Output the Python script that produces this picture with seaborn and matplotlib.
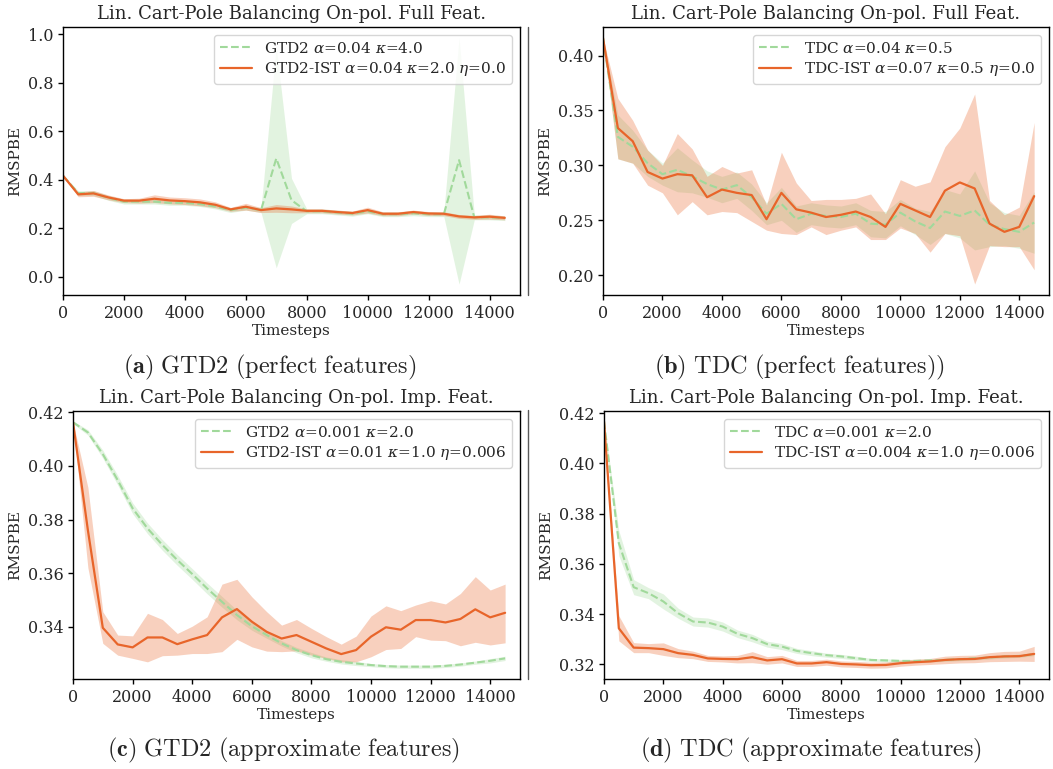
import matplotlib
matplotlib.use("Agg")
import matplotlib.pyplot as plt
import seaborn as sns
from matplotlib.lines import Line2D

# Evaluation checkpoints (timesteps)
steps = list(range(0, 14501, 500))

# (a) GTD2, perfect features
a_gtd2_mean = [0.417, 0.345, 0.345, 0.325, 0.310, 0.310, 0.310, 0.305, 0.305, 0.300,
               0.290, 0.275, 0.285, 0.275, 0.488, 0.316, 0.270, 0.270, 0.265, 0.260,
               0.270, 0.258, 0.258, 0.262, 0.258, 0.258, 0.481, 0.245, 0.245, 0.242]
a_gtd2_lo = [0.415, 0.335, 0.335, 0.315, 0.300, 0.300, 0.300, 0.295, 0.295, 0.290,
             0.280, 0.265, 0.275, 0.265, 0.037, 0.220, 0.260, 0.260, 0.255, 0.250,
             0.260, 0.248, 0.248, 0.252, 0.248, 0.248, -0.030, 0.235, 0.235, 0.232]
a_gtd2_hi = [0.419, 0.355, 0.355, 0.335, 0.320, 0.320, 0.320, 0.315, 0.315, 0.310,
             0.300, 0.285, 0.295, 0.285, 0.949, 0.406, 0.280, 0.280, 0.275, 0.270,
             0.280, 0.268, 0.268, 0.272, 0.268, 0.268, 0.986, 0.255, 0.255, 0.252]
a_ist_mean = [0.417, 0.340, 0.344, 0.327, 0.314, 0.314, 0.322, 0.315, 0.312, 0.307,
              0.297, 0.278, 0.289, 0.275, 0.282, 0.278, 0.272, 0.272, 0.267, 0.263,
              0.275, 0.260, 0.260, 0.267, 0.261, 0.260, 0.249, 0.245, 0.248, 0.243]
a_ist_err = [0.002, 0.010, 0.012, 0.010, 0.008, 0.010, 0.016, 0.014, 0.014, 0.014,
             0.012, 0.008, 0.014, 0.010, 0.016, 0.014, 0.008, 0.008, 0.008, 0.008,
             0.012, 0.008, 0.008, 0.008, 0.008, 0.008, 0.008, 0.008, 0.010, 0.008]

# (b) TDC, perfect features
b_tdc_mean = [0.416, 0.326, 0.317, 0.302, 0.292, 0.296, 0.290, 0.283, 0.278, 0.282,
              0.271, 0.256, 0.265, 0.251, 0.256, 0.254, 0.253, 0.256, 0.247, 0.246,
              0.257, 0.249, 0.243, 0.258, 0.254, 0.259, 0.246, 0.242, 0.2395, 0.248]
b_tdc_err = [0.001, 0.020, 0.015, 0.012, 0.010, 0.020, 0.015, 0.012, 0.012, 0.012,
             0.012, 0.010, 0.015, 0.012, 0.010, 0.010, 0.010, 0.010, 0.012, 0.012,
             0.012, 0.012, 0.015, 0.020, 0.020, 0.036, 0.020, 0.015, 0.015, 0.028]
b_ist_mean = [0.416, 0.334, 0.322, 0.294, 0.288, 0.292, 0.291, 0.271, 0.278, 0.275,
              0.273, 0.251, 0.275, 0.260, 0.257, 0.253, 0.255, 0.258, 0.253, 0.244,
              0.265, 0.259, 0.253, 0.277, 0.2845, 0.279, 0.247, 0.2395, 0.244, 0.272]
b_ist_lo = [0.416, 0.306, 0.302, 0.282, 0.275, 0.255, 0.267, 0.255, 0.258, 0.257,
            0.249, 0.241, 0.238, 0.237, 0.244, 0.237, 0.241, 0.244, 0.2325, 0.2325,
            0.243, 0.238, 0.221, 0.238, 0.236, 0.192, 0.227, 0.226, 0.226, 0.205]
b_ist_hi = [0.416, 0.361, 0.341, 0.314, 0.300, 0.329, 0.315, 0.290, 0.299, 0.293,
            0.296, 0.264, 0.312, 0.284, 0.268, 0.269, 0.269, 0.270, 0.274, 0.256,
            0.287, 0.281, 0.285, 0.317, 0.334, 0.365, 0.268, 0.255, 0.262, 0.339]

# (c) GTD2, approximate features
c_gtd2_mean = [0.4163, 0.4125, 0.4044, 0.3947, 0.3842, 0.3767, 0.3705, 0.3649, 0.3597, 0.3543,
               0.3493, 0.3444, 0.3402, 0.3369, 0.3338, 0.3313, 0.3294, 0.3279, 0.3269, 0.3263,
               0.3257, 0.3253, 0.3251, 0.3251, 0.3251, 0.3254, 0.3259, 0.3266, 0.3273, 0.3282]
c_gtd2_err = [0.0005, 0.0010, 0.0015, 0.0018, 0.0020, 0.0020, 0.0020, 0.0020, 0.0020, 0.0020,
              0.0020, 0.0018, 0.0015, 0.0012, 0.0010, 0.0010, 0.0010, 0.0008, 0.0008, 0.0008,
              0.0006, 0.0006, 0.0006, 0.0006, 0.0006, 0.0006, 0.0006, 0.0006, 0.0008, 0.0008]
c_ist_mean = [0.4163, 0.3760, 0.3396, 0.3334, 0.3323, 0.3360, 0.3360, 0.3335, 0.3353, 0.3369,
              0.3435, 0.3466, 0.3419, 0.3381, 0.3356, 0.3369, 0.3344, 0.3319, 0.3298, 0.3313,
              0.3363, 0.3398, 0.3389, 0.3425, 0.3425, 0.3416, 0.3429, 0.3465, 0.3435, 0.3452]
c_ist_lo = [0.4163, 0.3620, 0.3338, 0.3294, 0.3282, 0.3269, 0.3292, 0.3294, 0.3300, 0.3300,
            0.3307, 0.3353, 0.3325, 0.3309, 0.3307, 0.3310, 0.3294, 0.3282, 0.3269, 0.3269,
            0.3288, 0.3315, 0.3319, 0.3363, 0.3350, 0.3348, 0.3329, 0.3342, 0.3332, 0.3340]
c_ist_hi = [0.4163, 0.3920, 0.3456, 0.3369, 0.3366, 0.3450, 0.3427, 0.3375, 0.3402, 0.3437,
            0.3559, 0.3577, 0.3512, 0.3456, 0.3406, 0.3427, 0.3394, 0.3363, 0.3335, 0.3365,
            0.3440, 0.3478, 0.3460, 0.3481, 0.3497, 0.3485, 0.3524, 0.3587, 0.3537, 0.3559]

# (d) TDC, approximate features
d_tdc_mean = [0.4167, 0.3682, 0.3507, 0.3483, 0.3450, 0.3403, 0.3370, 0.3366, 0.3350, 0.3321,
              0.3304, 0.3280, 0.3270, 0.3253, 0.3244, 0.3236, 0.3231, 0.3224, 0.3217, 0.3215,
              0.3213, 0.3213, 0.3215, 0.3217, 0.3220, 0.3223, 0.3227, 0.3231, 0.3233, 0.3240]
d_tdc_err = [0.0005, 0.0050, 0.0030, 0.0022, 0.0030, 0.0020, 0.0018, 0.0018, 0.0018, 0.0015,
             0.0015, 0.0012, 0.0012, 0.0010, 0.0010, 0.0008, 0.0008, 0.0008, 0.0006, 0.0006,
             0.0006, 0.0006, 0.0006, 0.0006, 0.0006, 0.0006, 0.0006, 0.0006, 0.0006, 0.0006]
d_ist_mean = [0.4167, 0.3343, 0.3266, 0.3264, 0.3260, 0.3244, 0.3237, 0.3223, 0.3221, 0.3220,
              0.3228, 0.3215, 0.3220, 0.3203, 0.3203, 0.3208, 0.3201, 0.3199, 0.3196, 0.3197,
              0.3204, 0.3208, 0.3211, 0.3217, 0.3220, 0.3221, 0.3228, 0.3231, 0.3232, 0.3241]
d_ist_err = [0.0005, 0.0050, 0.0020, 0.0018, 0.0025, 0.0018, 0.0015, 0.0012, 0.0012, 0.0015,
             0.0022, 0.0015, 0.0015, 0.0012, 0.0012, 0.0012, 0.0012, 0.0012, 0.0012, 0.0012,
             0.0012, 0.0012, 0.0012, 0.0015, 0.0015, 0.0015, 0.0018, 0.0020, 0.0020, 0.0030]

titles = ["Lin. Cart-Pole Balancing On-pol. Full Feat.",
          "Lin. Cart-Pole Balancing On-pol. Full Feat.",
          "Lin. Cart-Pole Balancing On-pol. Imp. Feat.",
          "Lin. Cart-Pole Balancing On-pol. Imp. Feat."]
base_labels = [r"GTD2 $\alpha$=0.04 $\kappa$=4.0",
               r"TDC $\alpha$=0.04 $\kappa$=0.5",
               r"GTD2 $\alpha$=0.001 $\kappa$=2.0",
               r"TDC $\alpha$=0.001 $\kappa$=2.0"]
ist_labels = [r"GTD2-IST $\alpha$=0.04 $\kappa$=2.0 $\eta$=0.0",
              r"TDC-IST $\alpha$=0.07 $\kappa$=0.5 $\eta$=0.0",
              r"GTD2-IST $\alpha$=0.01 $\kappa$=1.0 $\eta$=0.006",
              r"TDC-IST $\alpha$=0.004 $\kappa$=1.0 $\eta$=0.006"]
captions = [(r"(a)", r"GTD2\ (perfect\ features)"),
            (r"(b)", r"TDC\ (perfect\ features))"),
            (r"(c)", r"GTD2\ (approximate\ features)"),
            (r"(d)", r"TDC\ (approximate\ features)")]

GREEN = "#a1d99b"
ORANGE = "#e8652a"

sns.set_theme(style="ticks")
plt.rcParams["font.family"] = ["DejaVu Serif"]
plt.rcParams["mathtext.fontset"] = "dejavuserif"
plt.rcParams["xtick.direction"] = "out"
plt.rcParams["ytick.direction"] = "out"

W, H = 1053, 769
fig = plt.figure(figsize=(W / 100, H / 100), dpi=100)


def px_axes(left, top, right, bottom):
    return fig.add_axes([left / W, 1 - bottom / H, (right - left) / W, (bottom - top) / H])


axes = [px_axes(63, 27, 520, 295), px_axes(603, 27, 1049, 295),
        px_axes(73, 411, 520, 679), px_axes(604, 411, 1049, 679)]

panels = [
    (a_gtd2_mean,
     a_gtd2_lo, a_gtd2_hi,
     a_ist_mean,
     [m - e for m, e in zip(a_ist_mean, a_ist_err)],
     [m + e for m, e in zip(a_ist_mean, a_ist_err)]),
    (b_tdc_mean,
     [m - e for m, e in zip(b_tdc_mean, b_tdc_err)],
     [m + e for m, e in zip(b_tdc_mean, b_tdc_err)],
     b_ist_mean, b_ist_lo, b_ist_hi),
    (c_gtd2_mean,
     [m - e for m, e in zip(c_gtd2_mean, c_gtd2_err)],
     [m + e for m, e in zip(c_gtd2_mean, c_gtd2_err)],
     c_ist_mean, c_ist_lo, c_ist_hi),
    (d_tdc_mean,
     [m - e for m, e in zip(d_tdc_mean, d_tdc_err)],
     [m + e for m, e in zip(d_tdc_mean, d_tdc_err)],
     d_ist_mean,
     [m - e for m, e in zip(d_ist_mean, d_ist_err)],
     [m + e for m, e in zip(d_ist_mean, d_ist_err)]),
]

ylims = [(-0.075, 1.03), (0.182, 0.426), (0.3205, 0.4205), (0.3141, 0.4209)]
yticks = [[0.0, 0.2, 0.4, 0.6, 0.8, 1.0],
          [0.20, 0.25, 0.30, 0.35, 0.40],
          [0.34, 0.36, 0.38, 0.40, 0.42],
          [0.32, 0.34, 0.36, 0.38, 0.40, 0.42]]
yfmt = ["{:.1f}", "{:.2f}", "{:.2f}", "{:.2f}"]

for i, ax in enumerate(axes):
    bm, blo, bhi, im, ilo, ihi = panels[i]
    ax.fill_between(steps, blo, bhi, color=GREEN, alpha=0.3, linewidth=0)
    ax.fill_between(steps, ilo, ihi, color=ORANGE, alpha=0.3, linewidth=0)
    sns.lineplot(x=steps, y=bm, ax=ax, color=GREEN, linestyle="--", linewidth=1.5,
                 label=base_labels[i])
    sns.lineplot(x=steps, y=im, ax=ax, color=ORANGE, linewidth=1.6, label=ist_labels[i])
    ax.set_xlim(0, 15000)
    ax.set_ylim(*ylims[i])
    ax.set_xticks(range(0, 14001, 2000))
    ax.set_yticks(yticks[i])
    ax.set_yticklabels([yfmt[i].format(v) for v in yticks[i]])
    ax.tick_params(labelsize=11.5, length=3.5, width=1, color="black")
    for s in ax.spines.values():
        s.set_color("black")
        s.set_linewidth(1.0)
    ax.set_title(titles[i], fontsize=13, pad=6)
    ax.set_xlabel("Timesteps", fontsize=11, labelpad=2)
    ax.set_ylabel("RMSPBE", fontsize=11, labelpad=4)
    ax.legend(loc="upper right", fontsize=11, frameon=True, fancybox=True,
              edgecolor="0.8", framealpha=0.8, borderaxespad=0.5,
              labelspacing=0.3, handlelength=2.1)

# sub-figure captions
cap_pos = [(270, 367), (799, 367), (283, 750), (811, 750)]
for (tag, body), (cx, cy) in zip(captions, cap_pos):
    fig.text(cx / W, 1 - cy / H, r"$\mathbf{" + tag + r"}\ \mathrm{" + body + "}$",
             ha="center", va="center", fontsize=17.5, math_fontfamily="cm")

# thin separators at the sub-figure boundary
for top, bottom in [(27, 295), (410, 679)]:
    fig.add_artist(Line2D([527.5 / W, 527.5 / W], [1 - top / H, 1 - bottom / H],
                          color="0.35", linewidth=1.0, transform=fig.transFigure))

fig.savefig("out.png", dpi=100)
